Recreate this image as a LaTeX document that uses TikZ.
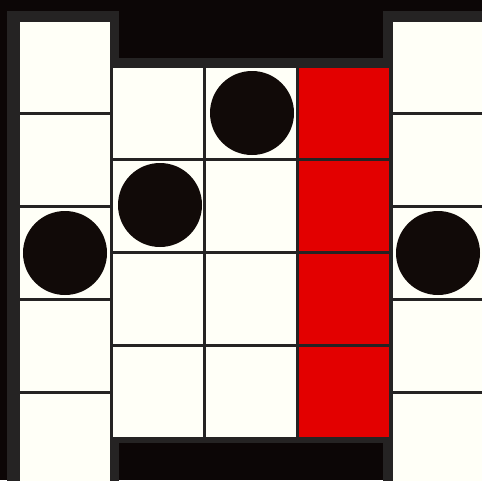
\documentclass[tikz,border=0pt]{standalone}
\usetikzlibrary{positioning}
\definecolor{boardblack}{HTML}{0C0606}
\definecolor{boardgrey}{HTML}{252323}
\definecolor{cellcream}{HTML}{FFFFF7}
\definecolor{cellred}{HTML}{E30000}
\definecolor{stoneblack}{HTML}{110A08}
\begin{document}
\begin{tikzpicture}[x=0.5mm,y=-0.5mm,
  frame/.style={fill=boardgrey},
  stone/.style={fill=stoneblack}]
  \def\cp{93} % cell pitch
  \def\cs{90} % cell size
  \clip (0,0) rectangle (482,480);
  % background
  \fill[boardblack] (0,0) rectangle (482,480);
  % frames
  \fill[frame] (7,11) rectangle (119,490);
  \fill[frame] (110,58) rectangle (391,443);
  \fill[frame] (383,11) rectangle (490,490);
  % side columns
  \foreach \i in {0,...,4} {
    \pgfmathsetmacro{\yy}{22+\i*\cp}
    \fill[cellcream] (20,\yy) rectangle ++(\cs,\cs);
    \fill[cellcream] (393,\yy) rectangle ++(\cs,\cs);
  }
  % middle block
  \foreach \j/\col in {0/cellcream, 1/cellcream, 2/cellred} {
    \pgfmathsetmacro{\xx}{113+\j*\cp}
    \foreach \i in {0,...,3} {
      \pgfmathsetmacro{\yy}{68+\i*\cp}
      \fill[\col] (\xx,\yy) rectangle ++(\cs,\cs);
    }
  }
  % stones
  \fill[stone] (252,113) circle (21mm);
  \fill[stone] (160,205) circle (21mm);
  \fill[stone] (65,253) circle (21mm);
  \fill[stone] (438,253) circle (21mm);
\end{tikzpicture}
\end{document}
